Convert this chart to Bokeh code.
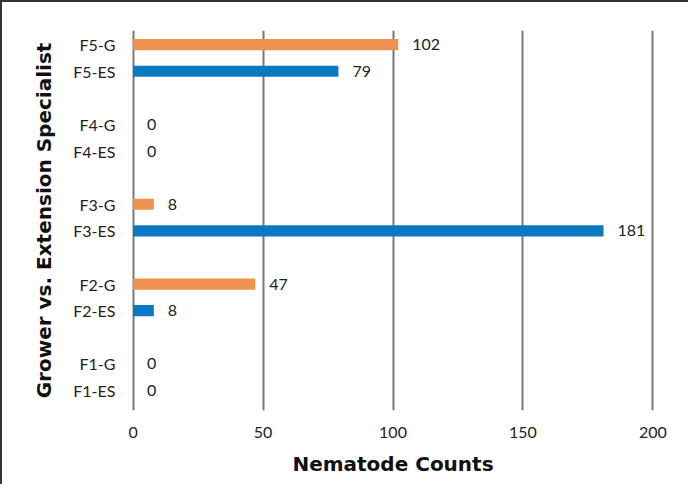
from bokeh.plotting import figure
from bokeh.models import ColumnDataSource, FixedTicker, Range1d
from bokeh.embed import file_html
from bokeh.resources import INLINE
from bokeh.core.properties import value

# Data (bottom to top)
categories = ["F1-ES", "F1-G", "F2-ES", "F2-G", "F3-ES", "F3-G", "F4-ES", "F4-G", "F5-ES", "F5-G"]
counts = [0, 0, 8, 47, 181, 8, 0, 0, 79, 102]
x_ticks = [0, 50, 100, 150, 200]

ORANGE = "#F0924F"
BLUE = "#0B79C1"
FONT = "Lato"
TITLE_FONT = "DejaVu Sans"

# positions: each farm takes three slots (ES, G, blank)
ypos = []
for i, c in enumerate(categories):
    farm = i // 2
    ypos.append(farm * 3 + (i % 2))
colors = [ORANGE if c.endswith("-G") else BLUE for c in categories]
labels = [str(v) for v in counts]

src = ColumnDataSource(dict(y=ypos, v=counts, color=colors, label=labels))

p = figure(width=688, height=484, output_backend="svg", toolbar_location=None,
           x_range=Range1d(-0.6, 200.6), y_range=Range1d(-0.75, 13.53),
           min_border_left=129, min_border_right=36, min_border_top=28, min_border_bottom=76)
p.styles = {"border-top": "2px solid #333", "border-left": "2px solid #333"}
p.outline_line_color = None
p.background_fill_color = "white"

p.hbar(y="y", right="v", left=0, height=0.42, fill_color="color", line_color=None, source=src)
p.text(x="v", y="y", text="label", source=src, x_offset=14, text_align="left",
       text_baseline="middle", text_font=value(FONT), text_font_size="16px", text_color="#222")

# x axis
p.xaxis.ticker = FixedTicker(ticks=x_ticks)
p.xaxis.axis_line_color = None
p.xaxis.major_tick_line_color = None
p.xaxis.minor_tick_line_color = None
p.xaxis.major_label_standoff = 10
p.xaxis.major_label_text_font = FONT
p.xaxis.major_label_text_font_size = "16px"
p.xaxis.major_label_text_color = "#222"
p.xaxis.axis_label = "Nematode Counts"
p.xaxis.axis_label_text_font = TITLE_FONT
p.xaxis.axis_label_text_font_style = "bold"
p.xaxis.axis_label_text_font_size = "20px"
p.xaxis.axis_label_text_color = "#111"
p.xaxis.axis_label_standoff = 11

# y axis
p.yaxis.ticker = FixedTicker(ticks=ypos)
p.yaxis.major_label_overrides = {y: c for y, c in zip(ypos, categories)}
p.yaxis.axis_line_color = None
p.yaxis.major_tick_line_color = None
p.yaxis.minor_tick_line_color = None
p.yaxis.major_label_standoff = 10
p.yaxis.major_label_text_font = FONT
p.yaxis.major_label_text_font_size = "16px"
p.yaxis.major_label_text_color = "#222"
p.yaxis.axis_label = "Grower vs. Extension Specialist"
p.yaxis.axis_label_text_font = TITLE_FONT
p.yaxis.axis_label_text_font_style = "bold"
p.yaxis.axis_label_text_font_size = "20px"
p.yaxis.axis_label_text_color = "#111"
p.yaxis.axis_label_standoff = 14

p.xgrid.grid_line_color = "#777777"
p.xgrid.grid_line_width = 2
p.ygrid.grid_line_color = None

open("out.html", "w").write(file_html(p, INLINE))
